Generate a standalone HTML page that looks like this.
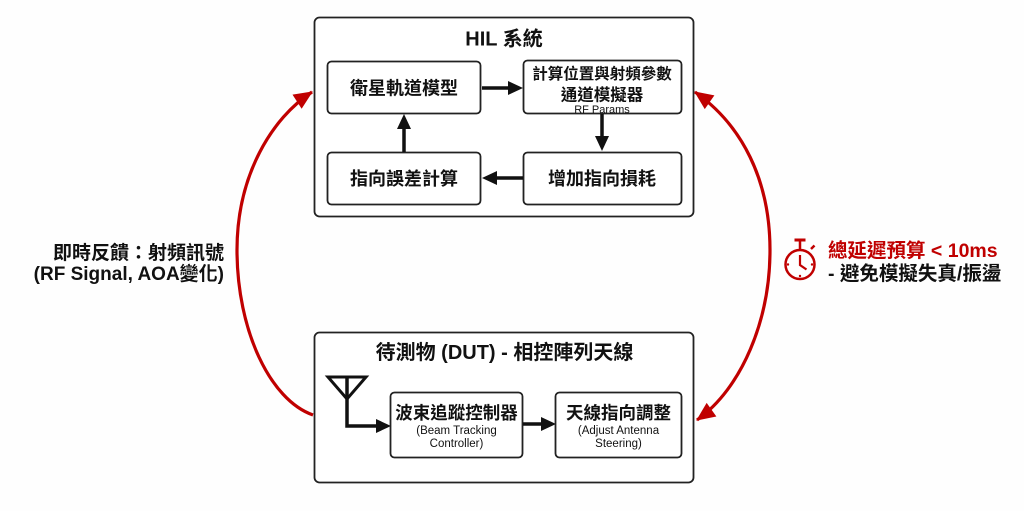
<!DOCTYPE html>
<html><head><meta charset="utf-8">
<style>
html,body{margin:0;padding:0;background:#fefefe;}
svg{display:block;}
text{font-family:"Liberation Sans","Noto Sans CJK TC","Noto Sans CJK SC",sans-serif;}
.b{font-weight:bold;fill:#111;}
.s{fill:#111;}
</style></head>
<body>
<svg width="1024" height="511" viewBox="0 0 1024 511" xmlns="http://www.w3.org/2000/svg">
<defs>
<marker id="rh" markerUnits="userSpaceOnUse" markerWidth="22" markerHeight="22" viewBox="-19 -10 21 20" refX="0" refY="0" orient="auto-start-reverse">
<path d="M1,0 L-17,-8 L-17,8 Z" fill="#c00000"/>
</marker>
</defs>
<rect width="1024" height="511" fill="#fefefe"/>

<!-- HIL box -->
<rect x="314.5" y="17.5" width="379" height="199" rx="5" fill="#fff" stroke="#222" stroke-width="1.8"/>
<text x="504" y="45.5" class="b" font-size="20" text-anchor="middle">HIL 系統</text>

<rect x="327.5" y="61.5" width="153" height="52" rx="4" fill="#fff" stroke="#222" stroke-width="1.8"/>
<text x="404" y="94.5" class="b" font-size="18" text-anchor="middle">衛星軌道模型</text>

<rect x="523.5" y="60.5" width="158" height="53" rx="4" fill="#fff" stroke="#222" stroke-width="1.8"/>
<text x="602" y="79" class="b" font-size="15.5" text-anchor="middle">計算位置與射頻參數</text>
<text x="602" y="100.5" class="b" font-size="16.5" text-anchor="middle">通道模擬器</text>
<text x="602" y="113" class="s" font-size="11" text-anchor="middle">RF Params</text>

<rect x="327.5" y="152.5" width="153" height="52" rx="4" fill="#fff" stroke="#222" stroke-width="1.8"/>
<text x="404" y="185" class="b" font-size="18" text-anchor="middle">指向誤差計算</text>

<rect x="523.5" y="152.5" width="158" height="52" rx="4" fill="#fff" stroke="#222" stroke-width="1.8"/>
<text x="602" y="185" class="b" font-size="18" text-anchor="middle">增加指向損耗</text>

<!-- black arrows HIL -->
<line x1="482" y1="88" x2="509" y2="88" stroke="#111" stroke-width="3.5"/>
<polygon points="523,88 508,81 508,95" fill="#111"/>
<line x1="602" y1="114" x2="602" y2="137" stroke="#111" stroke-width="3.5"/>
<polygon points="602,151 595,136 609,136" fill="#111"/>
<line x1="523" y1="178" x2="496" y2="178" stroke="#111" stroke-width="3.5"/>
<polygon points="482,178 497,171 497,185" fill="#111"/>
<line x1="404" y1="152" x2="404" y2="128" stroke="#111" stroke-width="3.5"/>
<polygon points="404,114 397,129 411,129" fill="#111"/>

<!-- DUT box -->
<rect x="314.5" y="332.5" width="379" height="150" rx="5" fill="#fff" stroke="#222" stroke-width="1.8"/>
<text x="504.5" y="359" class="b" font-size="20" text-anchor="middle">待測物 (DUT) - 相控陣列天線</text>

<!-- antenna -->
<polygon points="328,377 366,377 347,399" fill="none" stroke="#111" stroke-width="3" stroke-linejoin="miter"/>
<polyline points="347,377 347,426 377,426" fill="none" stroke="#111" stroke-width="3.5"/>
<polygon points="391,426 376,419 376,433" fill="#111"/>

<rect x="390.5" y="392.5" width="132" height="65" rx="4" fill="#fff" stroke="#222" stroke-width="1.8"/>
<text x="456.5" y="419" class="b" font-size="17.5" text-anchor="middle">波束追蹤控制器</text>
<text x="456.5" y="434" class="s" font-size="11.5" text-anchor="middle">(Beam Tracking</text>
<text x="456.5" y="447" class="s" font-size="11.5" text-anchor="middle">Controller)</text>

<line x1="523" y1="424" x2="542" y2="424" stroke="#111" stroke-width="3.5"/>
<polygon points="556,424 541,417 541,431" fill="#111"/>

<rect x="555.5" y="392.5" width="126" height="65" rx="4" fill="#fff" stroke="#222" stroke-width="1.8"/>
<text x="618.5" y="419" class="b" font-size="17.5" text-anchor="middle">天線指向調整</text>
<text x="618.5" y="434" class="s" font-size="11.5" text-anchor="middle">(Adjust Antenna</text>
<text x="618.5" y="447" class="s" font-size="11.5" text-anchor="middle">Steering)</text>

<!-- left red arc -->
<path d="M313,415 C270,400 237,330 237,250 C237,175 272,118 312,92" fill="none" stroke="#c00000" stroke-width="3.2" marker-end="url(#rh)"/>

<!-- right red arc (double headed) -->
<path d="M697,420 C742,388 770,320 770,250 C770,180 742,125 695,92" fill="none" stroke="#c00000" stroke-width="3.2" marker-start="url(#rh)" marker-end="url(#rh)"/>

<!-- left label -->
<text x="224" y="259" class="b" font-size="19" text-anchor="end">即時反饋：射頻訊號</text>
<text x="224" y="280" class="b" font-size="19" text-anchor="end">(RF Signal, AOA變化)</text>

<!-- clock icon -->
<g stroke="#c00000" fill="none" stroke-width="2.5">
<circle cx="800" cy="264.5" r="14.5"/>
<line x1="800" y1="241" x2="800" y2="250"/>
<line x1="794.5" y1="240" x2="805.5" y2="240" stroke-width="3"/>
<line x1="811" y1="249" x2="814.5" y2="245.5"/>
<polyline points="800,255 800,265 806.5,269.5" stroke-width="2.2"/>
</g>
<g fill="#c00000">
<circle cx="788" cy="264.5" r="1.2"/>
<circle cx="812" cy="264.5" r="1.2"/>
<circle cx="800" cy="276" r="1.2"/>
</g>

<!-- right label -->
<text x="828" y="257" font-size="19.5" font-weight="bold" fill="#c00000">總延遲預算 &lt; 10ms</text>
<text x="828" y="280" class="b" font-size="19.5">- 避免模擬失真/振盪</text>
</svg>
</body></html>
